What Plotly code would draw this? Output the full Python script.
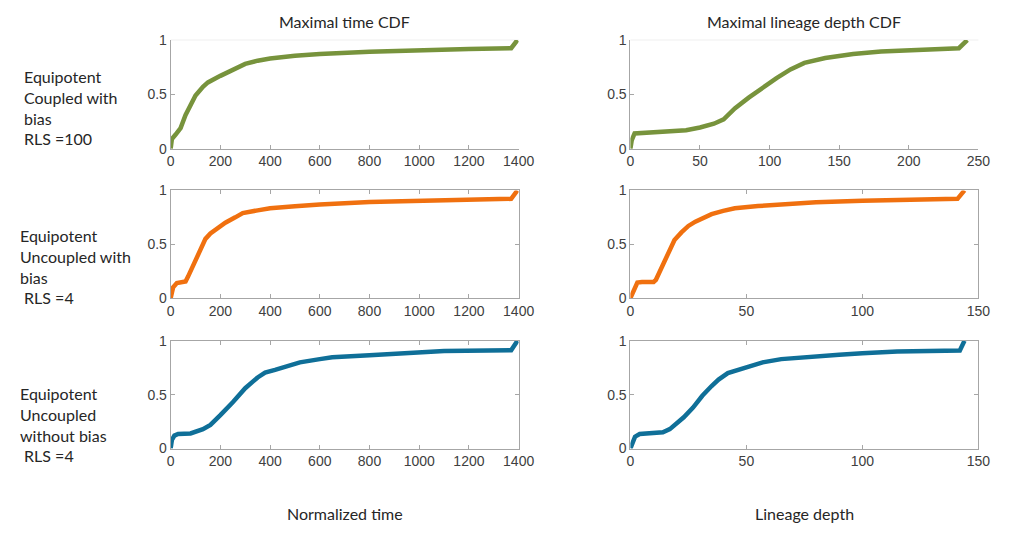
import plotly.graph_objects as go

# --- Maximal time CDF (normalized time) ---
time_coupled_x = [0, 5, 20, 40, 60, 80, 100, 130, 150, 200, 250, 300, 350, 400, 500, 600, 800, 1000, 1200, 1370, 1395]
time_coupled_y = [0, 0.09, 0.13, 0.19, 0.31, 0.41, 0.49, 0.57, 0.61, 0.67, 0.73, 0.78, 0.81, 0.83, 0.855, 0.872, 0.893, 0.908, 0.918, 0.925, 1.0]

time_uncoupled_bias_x = [0, 10, 25, 40, 60, 70, 90, 100, 120, 140, 160, 190, 220, 260, 290, 350, 400, 500, 600, 800, 1000, 1200, 1370, 1395]
time_uncoupled_bias_y = [0, 0.1, 0.14, 0.15, 0.155, 0.2, 0.3, 0.36, 0.45, 0.55, 0.6, 0.65, 0.7, 0.75, 0.79, 0.815, 0.835, 0.852, 0.87, 0.893, 0.905, 0.915, 0.922, 1.0]

time_uncoupled_nobias_x = [0, 5, 15, 30, 80, 110, 130, 160, 185, 200, 250, 300, 350, 380, 420, 460, 520, 600, 650, 800, 1000, 1100, 1370, 1395]
time_uncoupled_nobias_y = [0, 0.08, 0.12, 0.135, 0.14, 0.16, 0.18, 0.22, 0.27, 0.31, 0.43, 0.56, 0.66, 0.705, 0.73, 0.76, 0.8, 0.83, 0.848, 0.867, 0.89, 0.905, 0.912, 1.0]

# --- Maximal lineage depth CDF ---
depth_coupled_x = [0, 1, 3, 10, 30, 40, 50, 60, 67, 75, 85, 95, 100, 105, 115, 125, 140, 150, 160, 180, 200, 220, 236, 242]
depth_coupled_y = [0, 0.08, 0.14, 0.145, 0.16, 0.17, 0.195, 0.23, 0.27, 0.37, 0.47, 0.56, 0.61, 0.65, 0.73, 0.79, 0.835, 0.858, 0.872, 0.895, 0.908, 0.917, 0.925, 1.0]

depth_uncoupled_bias_x = [0, 1, 2, 3, 5, 10, 11, 13, 15, 17, 19, 22, 25, 28, 32, 35, 40, 45, 55, 65, 80, 100, 120, 141, 144]
depth_uncoupled_bias_y = [0, 0.05, 0.12, 0.145, 0.15, 0.15, 0.17, 0.26, 0.36, 0.44, 0.54, 0.61, 0.67, 0.71, 0.75, 0.78, 0.81, 0.835, 0.855, 0.872, 0.89, 0.905, 0.915, 0.922, 1.0]

depth_uncoupled_nobias_x = [0, 1, 2, 4, 10, 14, 17, 20, 23, 27, 31, 35, 38, 42, 47, 52, 57, 65, 75, 90, 100, 115, 142, 144]
depth_uncoupled_nobias_y = [0, 0.06, 0.11, 0.135, 0.14, 0.15, 0.18, 0.23, 0.29, 0.38, 0.49, 0.58, 0.64, 0.7, 0.73, 0.765, 0.8, 0.83, 0.85, 0.87, 0.885, 0.9, 0.91, 1.0]

y_ticks = [0, 0.5, 1]
y_tick_text = ["0", "0.5", "1"]
time_ticks = [0, 200, 400, 600, 800, 1000, 1200, 1400]
depth_ticks_wide = [0, 50, 100, 150, 200, 250]
depth_ticks = [0, 50, 100, 150]

row_labels = [
    "Equipotent<br>Coupled with<br>bias<br>RLS =100",
    "Equipotent<br>Uncoupled with<br>bias<br> RLS =4",
    "Equipotent<br>Uncoupled<br>without bias<br> RLS =4",
]

GREEN = "#77933C"
ORANGE = "#F0700F"
BLUE = "#0F6F98"

W, H = 1014, 539
col_dom = [[170 / W, 525 / W], [639 / W, 994 / W]]
row_px = [(33, 145), (188, 299), (343, 454)]
row_dom = [[1 - b / H, 1 - t / H] for t, b in row_px]

series = [
    (time_coupled_x, time_coupled_y, depth_coupled_x, depth_coupled_y, GREEN, 250, depth_ticks_wide),
    (time_uncoupled_bias_x, time_uncoupled_bias_y, depth_uncoupled_bias_x, depth_uncoupled_bias_y, ORANGE, 150, depth_ticks),
    (time_uncoupled_nobias_x, time_uncoupled_nobias_y, depth_uncoupled_nobias_x, depth_uncoupled_nobias_y, BLUE, 150, depth_ticks),
]

fig = go.Figure()
layout = {}
tick_font = dict(family="Liberation Sans", size=14, color="#404040")
AX = "#a6a6a6"

n = 0
for r, (tx, ty, dx, dy, color, dmax, dticks) in enumerate(series):
    for c, (xs, ys, xmax, xticks) in enumerate([(tx, ty, 1400, time_ticks), (dx, dy, dmax, dticks)]):
        n += 1
        sfx = "" if n == 1 else str(n)
        fig.add_trace(go.Scatter(x=xs, y=ys, mode="lines",
                                 line=dict(color=color, width=4.5),
                                 xaxis="x" + sfx, yaxis="y" + sfx,
                                 showlegend=False, hoverinfo="skip"))
        mirror = False if r == 0 else "ticks"
        layout["xaxis" + sfx] = dict(domain=col_dom[c], anchor="y" + sfx, range=[0, xmax],
                                     tickvals=xticks, ticktext=[str(v) for v in xticks],
                                     ticks="inside", ticklen=4, tickcolor=AX,
                                     showline=True, linecolor=AX, linewidth=1, mirror=mirror,
                                     showgrid=False, zeroline=False, tickfont=tick_font)
        layout["yaxis" + sfx] = dict(domain=row_dom[r], anchor="x" + sfx, range=[0, 1],
                                     tickvals=y_ticks, ticktext=y_tick_text,
                                     ticks="inside", ticklen=4, tickcolor=AX,
                                     showline=True, linecolor=AX, linewidth=1, mirror=mirror,
                                     showgrid=False, zeroline=False, tickfont=tick_font)

# faint top edge on the first row of panels
shapes = []
for c in range(2):
    shapes.append(dict(type="line", xref="paper", yref="paper",
                       x0=col_dom[c][0], x1=col_dom[c][1], y0=row_dom[0][1], y1=row_dom[0][1],
                       line=dict(color="#efefef", width=1), layer="below"))

label_font = dict(family="Lato, Open Sans, sans-serif", size=16, color="#262626")
annotations = [
    dict(text="Maximal time CDF", x=(col_dom[0][0] + col_dom[0][1]) / 2, y=1 - 14 / H,
         xref="paper", yref="paper", showarrow=False, font=label_font, xanchor="center", yanchor="middle"),
    dict(text="Maximal lineage depth CDF", x=(col_dom[1][0] + col_dom[1][1]) / 2, y=1 - 14 / H,
         xref="paper", yref="paper", showarrow=False, font=label_font, xanchor="center", yanchor="middle"),
    dict(text="Normalized time", x=(col_dom[0][0] + col_dom[0][1]) / 2, y=1 - 521 / H,
         xref="paper", yref="paper", showarrow=False, font=label_font, xanchor="center", yanchor="middle"),
    dict(text="Lineage depth", x=(col_dom[1][0] + col_dom[1][1]) / 2, y=1 - 521 / H,
         xref="paper", yref="paper", showarrow=False, font=label_font, xanchor="center", yanchor="middle"),
]
label_centers = [103, 266, 429]
label_x = [18, 14, 14]
for txt, cy, lx in zip(row_labels, label_centers, label_x):
    annotations.append(dict(text=txt, x=lx / W, y=1 - cy / H, xref="paper", yref="paper",
                            showarrow=False, font=label_font, align="left",
                            xanchor="left", yanchor="middle"))

fig.update_layout(**layout)
fig.update_layout(width=W, height=H, margin=dict(l=0, r=0, t=0, b=0),
                  paper_bgcolor="white", plot_bgcolor="white",
                  annotations=annotations, shapes=shapes)

fig.write_html("out.html")
